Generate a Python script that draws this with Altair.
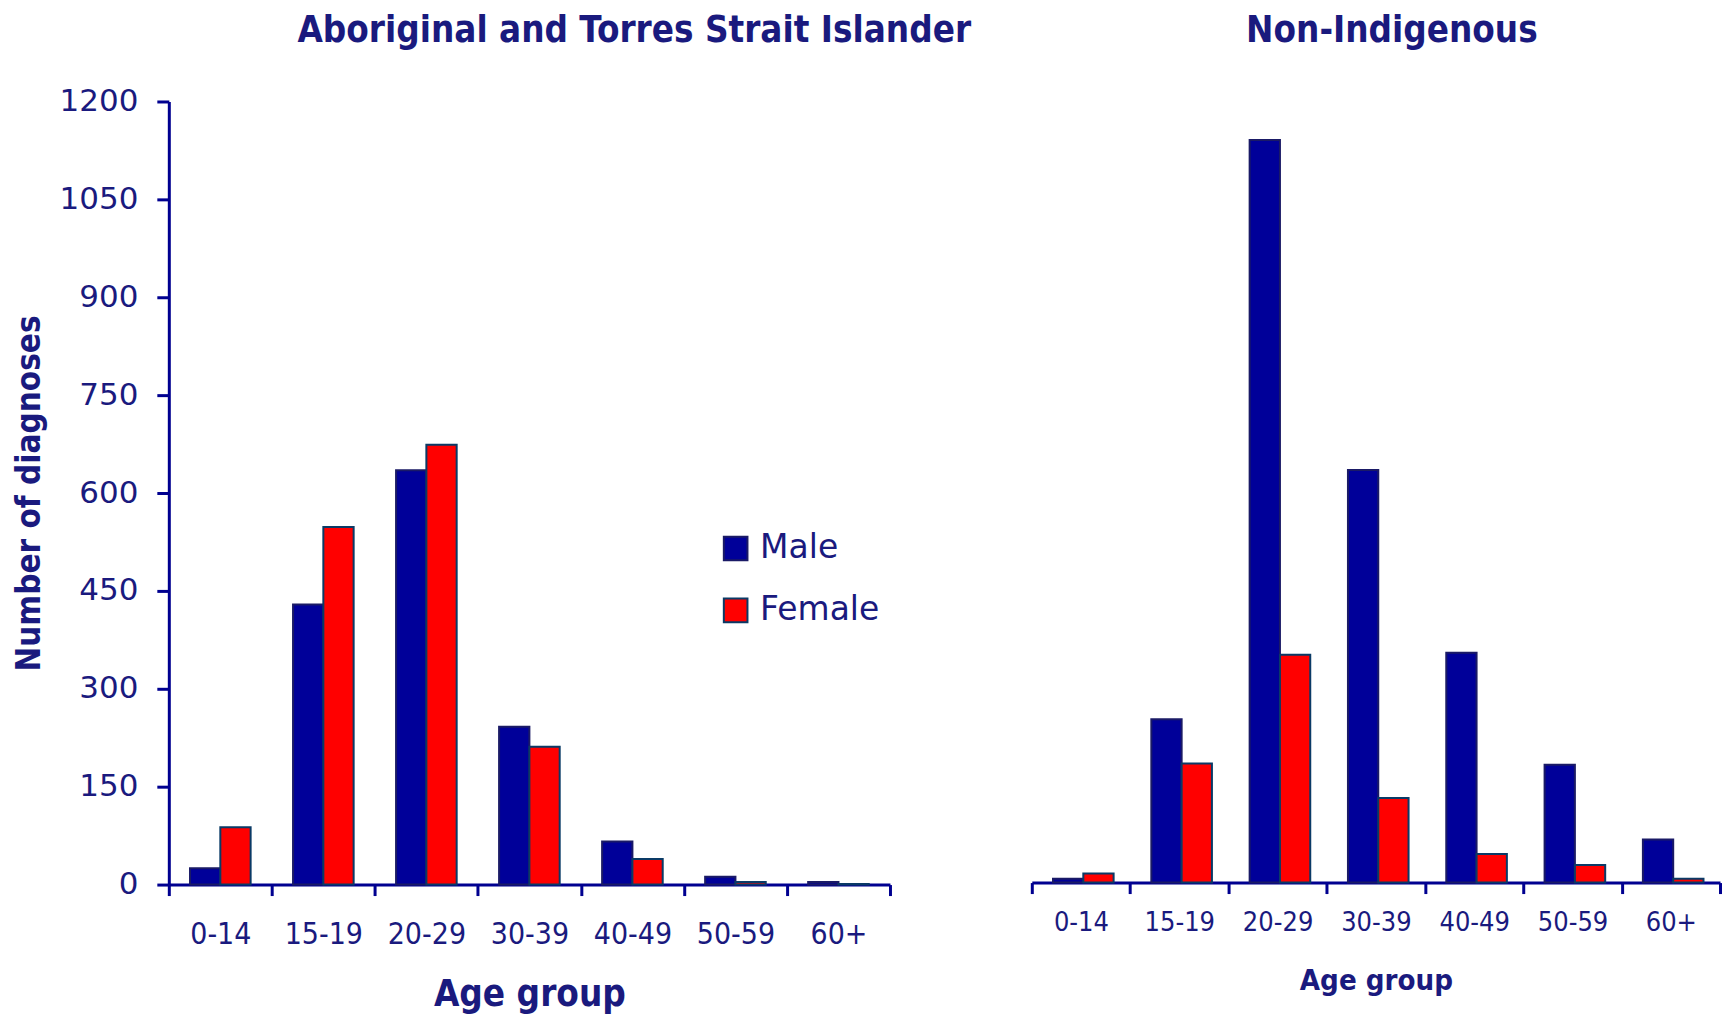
import altair as alt
import pandas as pd

ages = ["0-14", "15-19", "20-29", "30-39", "40-49", "50-59", "60+"]
sexes = ["Male", "Female"]
indig_male = [25, 429, 635, 242, 66, 12, 4]
indig_female = [88, 548, 674, 211, 39, 4, 1]
nonind_male = [6, 251, 1141, 634, 353, 181, 66]
nonind_female = [14, 183, 350, 130, 44, 27, 6]

TXT = "#1a1a7e"
AX = "#000090"
NARROW = "Liberation Sans Narrow, DejaVu Sans Condensed, Arial Narrow, sans-serif"
COND = "DejaVu Sans Condensed, Liberation Sans Narrow, sans-serif"
WIDE = "DejaVu Sans, Verdana, sans-serif"


def frame(male, female):
    rows = []
    for a, m, f in zip(ages, male, female):
        rows.append({"age": a, "sex": "Male", "value": m})
        rows.append({"age": a, "sex": "Female", "value": f})
    return pd.DataFrame(rows)


def panel(df, title, width, height, show_y, show_legend, dx, title_offset,
          label_size, label_pad, xtitle_size, xtitle_pad):
    if show_y:
        yaxis = alt.Axis(values=list(range(0, 1201, 150)), format="d",
                         title="Number of diagnoses",
                         titleFont=NARROW, titleFontSize=33, titleFontWeight="bold",
                         titleColor=TXT, labelFont=WIDE, labelFontSize=31,
                         labelColor=TXT, tickSize=12, tickWidth=3, tickColor=AX,
                         domainWidth=3, domainColor=AX, labelPadding=19,
                         titlePadding=13, grid=False)
    else:
        yaxis = None
    if show_legend:
        legend = alt.Legend(title=None, orient="none", legendX=551, legendY=431,
                            symbolType="square", symbolSize=560,
                            symbolStrokeColor="#1a2a66", symbolStrokeWidth=2,
                            labelFont=WIDE, labelFontSize=33, labelColor=TXT,
                            labelOffset=8, rowPadding=28, padding=0)
    else:
        legend = None
    return alt.Chart(df).mark_bar(strokeWidth=2).encode(
        x=alt.X("age:N", sort=ages,
                scale=alt.Scale(paddingInner=0, paddingOuter=0),
                axis=alt.Axis(title="Age group", labelAngle=0, tickBand="extent",
                              tickSize=11, tickWidth=3, tickColor=AX,
                              domainWidth=3, domainColor=AX,
                              labelFont=COND, labelFontSize=label_size,
                              labelColor=TXT, labelPadding=label_pad,
                              titleFont=NARROW, titleFontSize=xtitle_size,
                              titleFontWeight="bold", titleColor=TXT,
                              titlePadding=xtitle_pad)),
        xOffset=alt.XOffset("sex:N", sort=sexes,
                            scale=alt.Scale(domain=sexes, paddingOuter=0.70,
                                            paddingInner=0)),
        y=alt.Y("value:Q", scale=alt.Scale(domain=[0, 1200], nice=False), axis=yaxis),
        color=alt.Color("sex:N", sort=sexes,
                        scale=alt.Scale(domain=sexes, range=["#000099", "#ff0000"]),
                        legend=legend),
        stroke=alt.Stroke("sex:N", sort=sexes,
                          scale=alt.Scale(domain=sexes, range=["#1a1a66", "#0a3a66"]),
                          legend=None),
    ).properties(
        width=width, height=height,
        title=alt.TitleParams(title, font=NARROW, fontSize=36.5, fontWeight="bold",
                              color=TXT, anchor="middle", dx=dx, offset=title_offset),
    )


left = panel(frame(indig_male, indig_female), "Aboriginal and Torres Strait Islander",
             722, 784, True, True, 105, 36, 30, 24, 36.6, 27)
right = panel(frame(nonind_male, nonind_female), "Non-Indigenous",
              689, 782, False, False, 16, 52, 27, 16, 29.2, 31)

chart = alt.hconcat(
    left, right, spacing=142, bounds="flush",
    padding={"left": 5, "top": 4, "right": 0, "bottom": 0},
).resolve_scale(
    color="independent", stroke="independent", y="independent"
).resolve_legend(color="independent", stroke="independent").configure_view(stroke=None)

chart.save("out.html", embed_options={"renderer": "svg", "actions": False})
